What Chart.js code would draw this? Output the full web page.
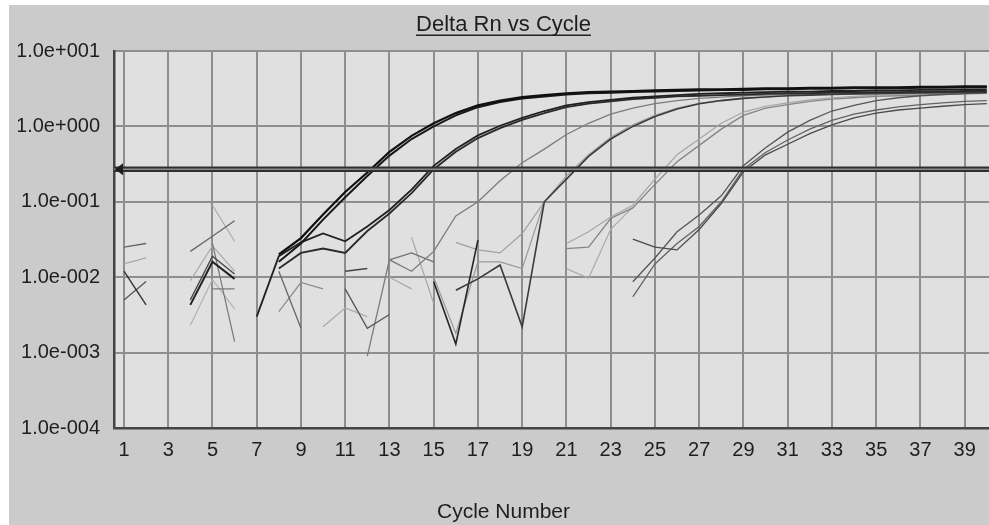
<!DOCTYPE html>
<html lang="en">
<head>
<meta charset="UTF-8">
<title>Delta Rn vs Cycle</title>
<script src="https://cdn.jsdelivr.net/npm/chart.js"></script>
<style>
  body { margin: 0; background: #fff; }
  canvas { display: block; }
</style>
</head>
<body>
<canvas id="deltaRnChart" width="989" height="525"></canvas>
<script>
const n = null;

// axes
const cycles = [1,2,3,4,5,6,7,8,9,10,11,12,13,14,15,16,17,18,19,20,
                21,22,23,24,25,26,27,28,29,30,31,32,33,34,35,36,37,38,39,40];
const xTicks = [1,3,5,7,9,11,13,15,17,19,21,23,25,27,29,31,33,35,37,39];
const yTicks = [1e-4, 1e-3, 1e-2, 1e-1, 1, 10];
const yTickLabels = ['1.0e-004','1.0e-003','1.0e-002','1.0e-001','1.0e+000','1.0e+001'];
const cycleMin = 0.55;
const cycleMax = 40.1;
const threshold = 0.27;

// amplification curves (Delta Rn per cycle, null = not plotted)
const wellA1 = [n,n,n,n,n,n,n,0.020,0.033,0.068,
                0.135,0.245,0.46,0.75,1.10,1.50,1.90,2.20,2.45,2.60,
                2.75,2.85,2.90,2.95,3.00,3.05,3.10,3.10,3.15,3.20,
                3.20,3.25,3.25,3.30,3.30,3.30,3.35,3.35,3.40,3.40];
const wellA2 = [n,n,n,n,n,n,n,0.016,0.028,0.058,
                0.115,0.22,0.41,0.68,1.00,1.40,1.80,2.10,2.35,2.50,
                2.65,2.75,2.80,2.85,2.90,2.95,3.00,3.05,3.05,3.10,
                3.10,3.15,3.15,3.20,3.20,3.20,3.25,3.25,3.30,3.30];
const wellB1 = [n,n,n,n,n,n,0.003,0.019,0.029,0.038,
                0.030,0.047,0.078,0.145,0.30,0.50,0.76,1.02,1.30,1.60,
                1.90,2.10,2.25,2.40,2.50,2.60,2.70,2.75,2.80,2.85,
                2.90,2.90,2.95,2.95,3.00,3.00,3.05,3.05,3.10,3.10];
const wellB2 = [n,n,n,n,n,n,n,0.013,0.021,0.024,
                0.021,0.041,0.070,0.13,0.27,0.46,0.70,0.95,1.22,1.50,
                1.80,2.00,2.15,2.30,2.40,2.50,2.55,2.60,2.65,2.70,
                2.75,2.75,2.80,2.80,2.85,2.85,2.90,2.90,2.95,2.95];
const wellC = [n,n,n,n,n,n,n,n,n,n,
               n,0.0009,0.017,0.012,0.022,0.065,0.10,0.19,0.33,0.50,
               0.78,1.10,1.45,1.75,2.00,2.20,2.35,2.45,2.55,2.60,
               2.65,2.70,2.72,2.75,2.78,2.80,2.82,2.85,2.88,2.90];
const wellD1 = [n,n,n,n,n,n,n,n,n,n,
                n,n,n,n,n,0.0067,0.0095,0.0145,0.0022,0.10,
                0.20,0.40,0.68,1.00,1.35,1.70,2.00,2.20,2.35,2.45,
                2.55,2.60,2.65,2.70,2.72,2.75,2.78,2.80,2.82,2.85];
const wellD2 = [n,n,n,n,n,n,n,n,n,n,
                n,n,n,n,n,0.029,0.023,0.021,0.038,0.10,
                0.22,0.42,0.72,1.05,1.40,1.75,2.02,2.22,2.37,2.47,
                2.55,2.62,2.66,2.70,2.73,2.76,2.78,2.80,2.82,2.84];
const wellE1 = [n,n,n,n,n,n,n,n,n,n,n,n,n,n,n,n,n,n,n,n,
                0.028,0.040,0.063,0.090,0.20,0.42,0.68,1.10,1.55,1.85,
                2.05,2.25,2.40,2.50,2.60,2.65,2.70,2.75,2.80,2.85];
const wellE2 = [n,n,n,n,n,n,n,n,n,n,n,n,n,n,n,n,n,n,n,n,
                0.024,0.025,0.060,0.083,0.17,0.34,0.56,0.92,1.40,1.75,
                1.95,2.15,2.30,2.40,2.50,2.55,2.60,2.65,2.70,2.75];
const wellE3 = [n,n,n,n,n,n,n,n,n,n,n,n,n,n,n,n,n,n,n,n,
                0.013,0.0097,0.043,0.085];
const wellF1 = [n,n,n,n,n,n,n,n,n,n,n,n,n,n,n,n,n,n,n,n,
                n,n,n,0.0087,0.018,0.040,0.067,0.12,0.30,0.52,
                0.84,1.20,1.60,1.90,2.20,2.40,2.55,2.65,2.72,2.78];
const wellF2 = [n,n,n,n,n,n,n,n,n,n,n,n,n,n,n,n,n,n,n,n,
                n,n,n,0.0055,0.015,0.028,0.047,0.10,0.27,0.45,
                0.66,0.92,1.20,1.45,1.65,1.82,1.95,2.05,2.15,2.20];
const wellF3 = [n,n,n,n,n,n,n,n,n,n,n,n,n,n,n,n,n,n,n,n,
                n,n,n,0.032,0.025,0.023,0.043,0.095,0.25,0.42,
                0.58,0.80,1.05,1.30,1.50,1.65,1.75,1.85,1.95,2.00];

// baseline noise fragments
const noise1 = [0.025,0.028];
const noise2 = [0.015,0.018];
const noise3 = [0.012,0.0043];
const noise4 = [0.005,0.0088];
const noise5 = [n,n,n,0.022,0.035,0.056];
const noise6 = [n,n,n,n,0.09,0.03];
const noise7 = [n,n,n,0.0043,0.016,0.0095];
const noise8 = [n,n,n,0.005,0.019,0.011];
const noise9 = [n,n,n,0.009,0.026,0.012];
const noise10 = [n,n,n,0.0023,0.0093,0.0038];
const noise11 = [n,n,n,n,0.028,0.0014];
const noise12 = [n,n,n,n,0.007,0.007];
const noise13 = [n,n,n,n,n,n,n,0.012,0.0021];
const noise14 = [n,n,n,n,n,n,n,0.0035,0.0085,0.007];
const noise15 = [n,n,n,n,n,n,n,n,n,0.0022,0.0039,0.003];
const noise16 = [n,n,n,n,n,n,n,n,n,n,0.007,0.0021,0.0032];
const noise17 = [n,n,n,n,n,n,n,n,n,n,0.012,0.013];
const noise18 = [n,n,n,n,n,n,n,n,n,n,n,n,0.017,0.021,0.016];
const noise19 = [n,n,n,n,n,n,n,n,n,n,n,n,0.010,0.007];
const noise20 = [n,n,n,n,n,n,n,n,n,n,n,n,n,0.034,0.0045];
const noise21 = [n,n,n,n,n,n,n,n,n,n,n,n,n,n,0.0087,0.0013,0.031];
const noise22 = [n,n,n,n,n,n,n,n,n,n,n,n,n,n,0.010,0.0018,0.016,0.016,0.013,0.10];

// drawing order: first entry ends up on top
const traces = [
  { values: wellA1, color: '#101010', width: 2.2 },
  { values: wellA2, color: '#181818', width: 2.0 },
  { values: wellB1, color: '#202020', width: 1.8 },
  { values: wellB2, color: '#2a2a2a', width: 1.8 },
  { values: wellD1, color: '#3a3a3a', width: 1.6 },
  { values: noise21, color: '#262626', width: 1.6 },
  { values: noise7, color: '#222222', width: 2.0 },
  { values: noise3, color: '#333333', width: 1.4 },
  { values: wellF3, color: '#4a4a4a', width: 1.3 },
  { values: wellF1, color: '#555555', width: 1.3 },
  { values: wellF2, color: '#636363', width: 1.3 },
  { values: noise8, color: '#444444', width: 1.3 },
  { values: noise17, color: '#444444', width: 1.5 },
  { values: noise16, color: '#555555', width: 1.3 },
  { values: noise4, color: '#555555', width: 1.3 },
  { values: wellC, color: '#7c7c7c', width: 1.3 },
  { values: wellE2, color: '#858585', width: 1.3 },
  { values: noise1, color: '#666666', width: 1.3 },
  { values: noise5, color: '#666666', width: 1.3 },
  { values: noise13, color: '#666666', width: 1.3 },
  { values: noise18, color: '#707070', width: 1.3 },
  { values: noise11, color: '#777777', width: 1.2 },
  { values: noise12, color: '#777777', width: 1.2 },
  { values: noise14, color: '#8c8c8c', width: 1.2 },
  { values: noise22, color: '#999999', width: 1.2 },
  { values: wellD2, color: '#a0a0a0', width: 1.2 },
  { values: wellE1, color: '#a6a6a6', width: 1.2 },
  { values: wellE3, color: '#ababab', width: 1.2 },
  { values: noise2, color: '#a8a8a8', width: 1.2 },
  { values: noise6, color: '#aaaaaa', width: 1.2 },
  { values: noise9, color: '#aaaaaa', width: 1.2 },
  { values: noise10, color: '#b2b2b2', width: 1.2 },
  { values: noise15, color: '#aaaaaa', width: 1.2 },
  { values: noise19, color: '#aaaaaa', width: 1.2 },
  { values: noise20, color: '#a4a4a4', width: 1.2 }
];

const toPoints = values => values.map((v, i) => ({ x: cycles[i], y: v }));
const thresholdPoints = [{ x: cycleMin, y: threshold }, { x: cycleMax, y: threshold }];

const datasets = [
  { data: thresholdPoints, borderColor: '#8a8a8a', borderWidth: 1.5 },
  { data: thresholdPoints, borderColor: '#303030', borderWidth: 5.5 }
].concat(traces.map(t => ({
  data: toPoints(t.values),
  borderColor: t.color,
  borderWidth: t.width
})));

const title = 'Delta Rn vs Cycle';
const titleFontSize = 22;

// gray panel, plot background, threshold arrow, title underline
const panelPlugin = {
  id: 'panel',
  beforeDraw(chart) {
    const { ctx, chartArea: a, width, height } = chart;
    ctx.save();
    ctx.fillStyle = '#ffffff';
    ctx.fillRect(0, 0, width, height);
    ctx.fillStyle = '#cbcbcb';
    ctx.fillRect(9, 5, width - 9, height - 5);
    ctx.fillStyle = '#e0e0e0';
    ctx.fillRect(a.left, a.top, a.right - a.left, a.bottom - a.top);
    ctx.restore();
  },
  afterDatasetsDraw(chart) {
    const { ctx, chartArea: a } = chart;
    const y = chart.scales.y.getPixelForValue(threshold);
    ctx.save();
    ctx.fillStyle = '#1e1e1e';
    ctx.beginPath();
    ctx.moveTo(a.left + 1, y);
    ctx.lineTo(a.left + 9, y - 6);
    ctx.lineTo(a.left + 9, y + 6);
    ctx.closePath();
    ctx.fill();
    ctx.restore();
  },
  afterDraw(chart) {
    const tb = chart.titleBlock;
    if (!tb) return;
    const ctx = chart.ctx;
    ctx.save();
    ctx.font = titleFontSize + 'px "Liberation Sans", Arial, sans-serif';
    const w = ctx.measureText(title).width;
    const cx = tb.left + tb.width / 2;
    const y = tb.top + 12 + titleFontSize * 0.6 + 10;
    ctx.strokeStyle = '#222222';
    ctx.lineWidth = 1.5;
    ctx.beginPath();
    ctx.moveTo(cx - w / 2, y);
    ctx.lineTo(cx + w / 2, y);
    ctx.stroke();
    ctx.restore();
  }
};

Chart.defaults.font.family = '"Liberation Sans", Arial, sans-serif';
Chart.defaults.color = '#1e1e1e';

new Chart(document.getElementById('deltaRnChart').getContext('2d'), {
  type: 'line',
  data: { datasets: datasets },
  options: {
    responsive: false,
    animation: false,
    spanGaps: false,
    elements: {
      point: { radius: 0 },
      line: { tension: 0, fill: false }
    },
    layout: { padding: { left: 18, right: 0, top: 0, bottom: 0 } },
    plugins: {
      legend: { display: false },
      tooltip: { enabled: false },
      title: {
        display: true,
        text: title,
        font: { size: titleFontSize, weight: 'normal' },
        color: '#1e1e1e',
        padding: { top: 12, bottom: 12.6 }
      },
      subtitle: {
        display: true,
        position: 'bottom',
        text: 'Cycle Number',
        font: { size: 21, weight: 'normal' },
        color: '#1e1e1e',
        padding: 0
      }
    },
    scales: {
      x: {
        type: 'linear',
        min: cycleMin,
        max: cycleMax,
        afterBuildTicks: axis => { axis.ticks = xTicks.map(v => ({ value: v })); },
        afterFit: axis => { axis.height = 71.8; },
        ticks: {
          callback: v => String(v),
          font: { size: 20 },
          padding: 10,
          maxRotation: 0,
          autoSkip: false
        },
        grid: { color: '#8e8e8e', lineWidth: 2, drawTicks: false },
        border: { color: '#444444', width: 2.5 }
      },
      y: {
        type: 'logarithmic',
        min: 1e-4,
        max: 10,
        afterBuildTicks: axis => { axis.ticks = yTicks.map(v => ({ value: v, major: true })); },
        afterFit: axis => { axis.width = 96; },
        ticks: {
          callback: (v, i) => yTickLabels[i],
          font: { size: 20 },
          padding: 14,
          autoSkip: false
        },
        grid: { color: '#8e8e8e', lineWidth: 2, drawTicks: false },
        border: { color: '#444444', width: 2.5 }
      }
    }
  },
  plugins: [panelPlugin]
});
</script>
</body>
</html>
